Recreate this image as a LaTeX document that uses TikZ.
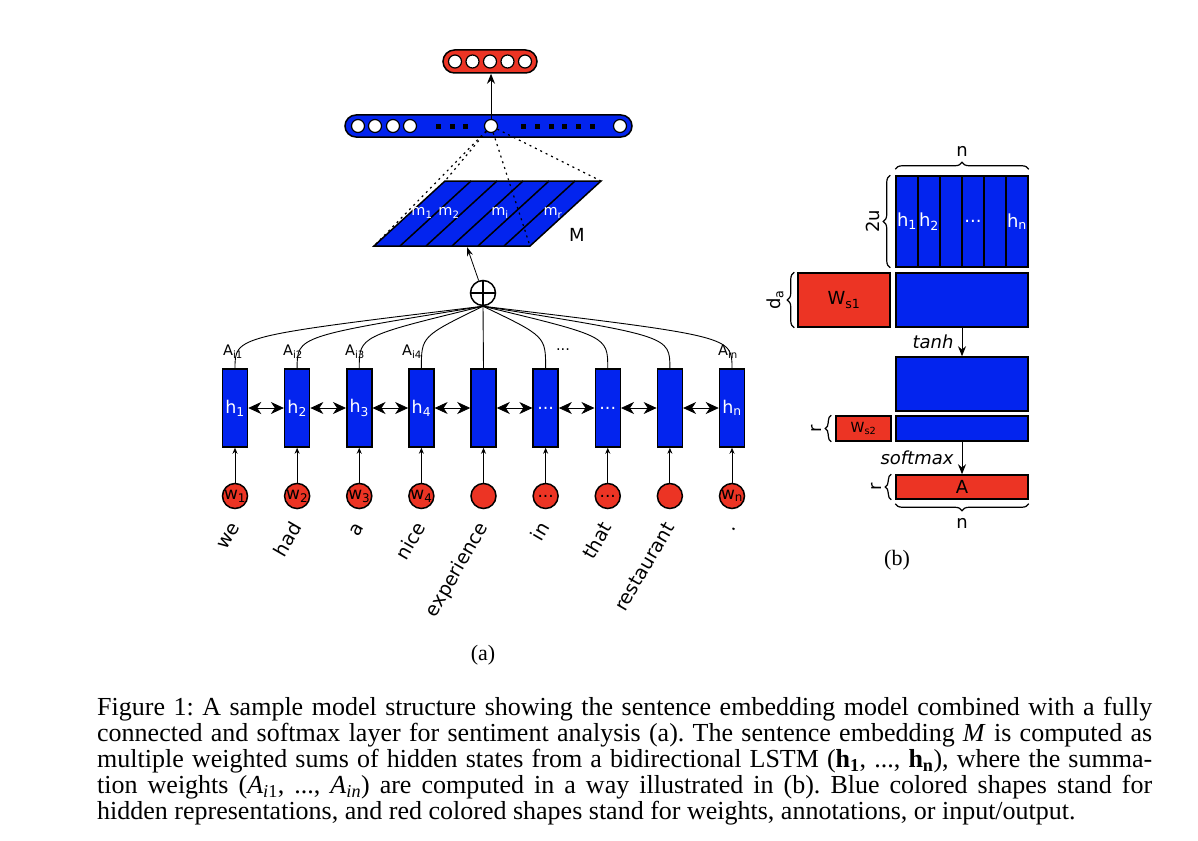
\documentclass[tikz,border=0pt]{standalone}
\usepackage{fontspec}
\setmainfont{Liberation Serif}
\newfontfamily\diagfont{DejaVu Sans}
\usetikzlibrary{arrows.meta,decorations.pathreplacing,calc,positioning}
\definecolor{nnblue}{RGB}{3,36,238}
\definecolor{nnred}{RGB}{236,52,36}
\newcommand\ellip{...}
\newcommand\capfont{\fontsize{26}{26}\selectfont\frenchspacing\spaceskip=0.25em plus 0.2em minus 0.12em\relax}

\begin{document}
\begin{tikzpicture}[x=1pt,y=-1pt,
  hid/.style={draw, fill=nnblue, line width=1.5pt, minimum width=25pt, minimum height=78pt, inner sep=0pt, text=white, font=\diagfont\fontsize{17.5}{17.5}\selectfont},
  wrd/.style={circle, draw, fill=nnred, line width=1.5pt, minimum size=25pt, inner sep=0pt, font=\diagfont\fontsize{17}{17}\selectfont},
  word/.style={rotate=60, anchor=base east, inner sep=0pt, font=\diagfont\fontsize{19}{19}\selectfont},
  weight/.style={inner sep=0pt, font=\diagfont\fontsize{14.5}{14.5}\selectfont},
  neuron/.style={circle, draw, fill=white, line width=1.2pt, minimum size=13pt, inner sep=0pt},
  dotsq/.style={fill=black, minimum size=5pt, inner sep=0pt},
  bmat/.style={draw, fill=nnblue, line width=1.5pt, inner sep=0pt},
  rmat/.style={draw, fill=nnred, line width=1.5pt, inner sep=0pt},
  lbl/.style={inner sep=0pt, font=\diagfont\fontsize{18}{18}\selectfont},
  brc/.style={decorate, decoration={brace, amplitude=7pt}, line width=1.2pt},
  lstm/.style={{Stealth[length=13pt,width=12pt,inset=4pt]}-{Stealth[length=13pt,width=12pt,inset=4pt]}, line width=0.8pt},
  up/.style={-{Stealth[length=10pt,width=8pt]}, line width=1pt},
  dots/.style={line width=1.2pt, dash pattern=on 2pt off 4pt},
  ]
\useasboundingbox (0,0) rectangle (1198,840);

% output layer
\node[draw, fill=nnred, line width=1.5pt, rounded corners=11.5pt, minimum width=94pt, minimum height=23pt] (outbar) at (490,61.5) {};
\foreach \k in {0,...,4}
  \node[neuron] (o\k) at (455+17.5*\k,61.5) {};

% fully connected layer
\node[draw, fill=nnblue, line width=1.5pt, rounded corners=11pt, minimum width=287pt, minimum height=22pt] (fcbar) at (488.5,126) {};
\foreach \x [count=\k] in {358,375,393,410}
  \node[neuron] (u\k) at (\x,126) {};
\node[neuron] (c) at (491,126) {};
\node[neuron] (ulast) at (620,126) {};
\foreach \x in {438,452,465,523,537,551,564,578,592}
  \node[dotsq] (sq\x) at (\x,126) {};
\draw[up] (c.north) -- (c.north |- outbar.south);

% sentence embedding M
\coordinate (bl) at (374,246);
\coordinate (br) at (530,246);
\coordinate (tr) at (601,181);
\coordinate (tl) at (445,181);
\draw[fill=nnblue, line width=1.5pt] (bl) -- (br) -- (tr) -- (tl) -- cycle;
\foreach \k in {1,...,5}
  \draw[line width=1.5pt] (374+26*\k,246) -- (445+26*\k,181);
\node[weight, text=white] (m1) at (422,213) {m\textsubscript{1}};
\node[weight, text=white] (m2) at (449,213) {m\textsubscript{2}};
\node[weight, text=white] (mi) at (500,213) {m\textsubscript{i}};
\node[weight, text=white] (mr) at (553,213) {m\textsubscript{r}};
\node[lbl] (Mlbl) at (577,235) {M};
\foreach \p in {tl,bl,tr,br}
  \draw[dots] (c) -- (\p);

% weighted sum
\node[circle, draw, line width=1.5pt, minimum size=25pt, inner sep=0pt] (sum) at (483,293) {};
\draw[line width=1.2pt] (sum.north) -- (sum.south) (sum.west) -- (sum.east);
\coordinate (mIn) at (467,247);
\draw[-{Stealth[length=9pt,width=6pt]}, line width=0.8pt] (sum) -- (mIn);

% bidirectional LSTM
\foreach \hl/\wl/\tx [count=\i] in {h\textsubscript{1}/w\textsubscript{1}/we,
    h\textsubscript{2}/w\textsubscript{2}/had, h\textsubscript{3}/w\textsubscript{3}/a,
    h\textsubscript{4}/w\textsubscript{4}/nice, {}/{}/experience, \ellip/\ellip/in,
    \ellip/\ellip/that, {}/{}/restaurant, h\textsubscript{n}/w\textsubscript{n}/.}{
  \pgfmathsetmacro\xx{235+62.125*(\i-1)}
  \node[hid] (h\i) at (\xx,408) {\hl};
  \node[wrd] (w\i) at (\xx,496) {\wl};
  \draw[-{Stealth[length=6pt,width=5pt]}, line width=0.8pt] (w\i) -- (h\i);
  \node[word] (t\i) at (\xx+5,527) {\tx};
}
\foreach \i [evaluate=\i as \j using int(\i+1)] in {1,...,8}
  \draw[lstm] (h\i) -- (h\j);
\foreach \i in {1,2,3,4,6,7,8,9}
  \draw[line width=0.9pt] (h\i.north) .. controls +(0,-32) .. (sum.south);
\draw[line width=0.9pt] (h5.north) -- (sum.south);

\node[weight] (a1) at (233,352) {A\textsubscript{i1}};
\node[weight] (a2) at (293,352) {A\textsubscript{i2}};
\node[weight] (a3) at (355,352) {A\textsubscript{i3}};
\node[weight] (a4) at (412,352) {A\textsubscript{i4}};
\node[weight] (adots) at (563,350) {\ellip};
\node[weight] (an) at (728,352) {A\textsubscript{in}};

\node[font=\fontsize{22}{22}\selectfont] (capa) at (483,655) {(a)};

% attention (b)
\foreach \k in {1,...,6}
  \node[bmat, minimum width=22pt, minimum height=91pt] (hc\k) at (885+22*\k,221.5) {};
\node[lbl, text=white] (hb1) at (hc1) {h\textsubscript{1}};
\node[lbl, text=white] (hb2) at (hc2) {h\textsubscript{2}};
\node[lbl, text=white] (hbd) at (hc4) {\ellip};
\node[lbl, text=white] (hbn) at (hc6) {h\textsubscript{n}};
\draw[brc] ($(hc1.north west)+(0,-6)$) -- ($(hc6.north east)+(0,-6)$) node[lbl, midway, above=12pt] (ntop) {n};
\draw[brc] ($(hc1.south west)+(-5,0)$) -- ($(hc1.north west)+(-5,0)$) node[lbl, midway, left=10pt, rotate=90, anchor=south] (twou) {2u};

\node[rmat, minimum width=92pt, minimum height=54pt] (ws1) at (844,300) {};
\node[lbl] (ws1l) at (ws1) {W\textsubscript{s1}};
\node[bmat, minimum width=132pt, minimum height=54pt] (b1) at (962,300) {};
\draw[brc] ($(ws1.south west)+(-3,0)$) -- ($(ws1.north west)+(-3,0)$) node[lbl, midway, left=10pt, rotate=90, anchor=south] (dal) {d\textsubscript{a}};

\node[bmat, minimum width=132pt, minimum height=54pt] (b2) at (962,384) {};
\draw[up] (b1.south) -- (b2.north) node[lbl, midway, left=8pt, font=\diagfont\itshape\fontsize{18}{18}\selectfont] (tanhl) {tanh};

\node[rmat, minimum width=55pt, minimum height=25pt] (ws2) at (863.5,428.5) {};
\node[inner sep=0pt, font=\diagfont\fontsize{14}{14}\selectfont] (ws2l) at (ws2) {W\textsubscript{s2}};
\node[bmat, minimum width=132pt, minimum height=25pt] (b3) at (962,428.5) {};
\draw[brc, decoration={amplitude=6pt}] ($(ws2.south west)+(-4,0)$) -- ($(ws2.north west)+(-4,0)$) node[lbl, midway, left=9pt, rotate=90, anchor=south] (r1) {r};

\node[rmat, minimum width=132pt, minimum height=24pt] (amat) at (962,487) {};
\node[lbl] (al) at (amat) {A};
\draw[up] (b3.south) -- (amat.north) node[lbl, midway, left=8pt, font=\diagfont\itshape\fontsize{18}{18}\selectfont] (softl) {softmax};
\draw[brc, decoration={amplitude=6pt}] ($(amat.south west)+(-4,0)$) -- ($(amat.north west)+(-4,0)$) node[lbl, midway, left=9pt, rotate=90, anchor=south] (r2) {r};
\draw[brc] ($(amat.south east)+(0,4)$) -- ($(amat.south west)+(0,4)$) node[lbl, midway, below=14pt] (nbot) {n};

\node[font=\fontsize{22}{22}\selectfont] (capb) at (897,560) {(b)};

% caption
\node[anchor=north west, inner sep=0pt, align=left, font=\capfont] (caption) at (97,697) {%
\hbox to 1055pt{Figure 1: A sample model structure showing the sentence embedding model combined with a fully}\\
\hbox to 1055pt{connected and softmax layer for sentiment analysis (a). The sentence embedding \textit{M} is computed as}\\
\hbox to 1055pt{multiple weighted sums of hidden states from a bidirectional LSTM (\textbf{h}\textsubscript{\textbf{1}}, ..., \textbf{h}\textsubscript{\textbf{n}}), where the summa-}\\
\hbox to 1055pt{tion weights (\textit{A}\textsubscript{\textit{i}1}, ..., \textit{A}\textsubscript{\textit{in}}) are computed in a way illustrated in (b). Blue colored shapes stand for}\\
hidden representations, and red colored shapes stand for weights, annotations, or input/output.};
\end{tikzpicture}
\end{document}
